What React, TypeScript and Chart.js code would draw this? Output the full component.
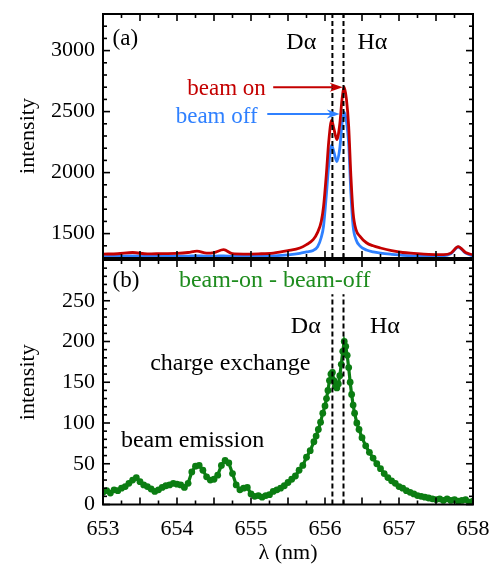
import React, { useEffect, useRef } from "react";
import { Chart, registerables } from "chart.js";

Chart.register(...registerables);

const SERIF = '"Liberation Serif", "Times New Roman", serif';

// ---------- panel (a) data ----------
const lambdaTop = [
  653.0, 653.2, 653.4, 653.6, 653.8, 654.0, 654.15, 654.27, 654.4, 654.5, 654.63, 654.75,
  654.9, 655.1, 655.3, 655.5, 655.66, 655.75, 655.84, 655.9, 655.95, 655.98, 656.02, 656.05,
  656.09, 656.12, 656.16, 656.2, 656.23, 656.26, 656.29, 656.32, 656.35, 656.38, 656.42,
  656.47, 656.56, 656.65, 656.75, 656.9, 657.05, 657.2, 657.4, 657.6, 657.7, 657.8, 657.9, 658.0,
];
const beamOn = [
  1332, 1335, 1345, 1333, 1336, 1338, 1345, 1356, 1340, 1345, 1368, 1335,
  1332, 1334, 1340, 1360, 1382, 1410, 1450, 1510, 1600, 1720, 2000, 2250,
  2430, 2360, 2270, 2400, 2600, 2700, 2600, 2380, 1970, 1670, 1530,
  1480, 1425, 1400, 1382, 1360, 1345, 1338, 1330, 1328, 1340, 1393, 1345, 1325,
];
const beamOff = [
  1312, 1314, 1318, 1313, 1314, 1315, 1316, 1318, 1315, 1315, 1318, 1314,
  1313, 1314, 1318, 1326, 1338, 1350, 1362, 1392, 1470, 1560, 1830, 2060,
  2225, 2170, 2090, 2200, 2400, 2495, 2420, 2240, 1830, 1560, 1450,
  1400, 1365, 1350, 1340, 1330, 1322, 1318, 1316, 1318, 1335, 1390, 1340, 1318,
];

// ---------- panel (b) data ----------
const lambdaDiff = [
  653.0, 653.05, 653.1, 653.15, 653.2, 653.25, 653.3, 653.35, 653.4, 653.45, 653.5, 653.55,
  653.6, 653.65, 653.7, 653.75, 653.8, 653.85, 653.9, 653.95, 654.0, 654.05, 654.1, 654.15,
  654.2, 654.25, 654.3, 654.35, 654.4, 654.45, 654.5, 654.55, 654.6, 654.65, 654.7, 654.75,
  654.8, 654.85, 654.9, 654.95, 655.0, 655.05, 655.1, 655.15, 655.2, 655.25, 655.3, 655.35,
  655.4, 655.45, 655.5, 655.55, 655.6, 655.65, 655.7, 655.75,
  655.8, 655.85, 655.88, 655.91, 655.94, 655.97, 656.0, 656.02, 656.04, 656.06, 656.08, 656.1,
  656.12, 656.14, 656.16, 656.18, 656.2, 656.22, 656.24, 656.26, 656.28, 656.3, 656.32, 656.34,
  656.36, 656.38, 656.4, 656.43, 656.46, 656.5,
  656.55, 656.6, 656.65, 656.7, 656.75, 656.8,
  656.85, 656.9, 656.95, 657.0, 657.05, 657.1, 657.15, 657.2, 657.25, 657.3, 657.35, 657.4,
  657.45, 657.5, 657.55, 657.6, 657.65, 657.7, 657.75, 657.8, 657.85, 657.9, 657.95, 658.0,
];
const beamDiff = [
  15, 17, 14, 18, 17, 20, 22, 26, 30, 33, 28, 24,
  22, 19, 16, 18, 21, 23, 24, 26, 25, 24, 21, 26,
  40, 47, 48, 42, 34, 30, 31, 36, 48, 54, 51, 38,
  24, 18, 20, 21, 13, 10, 11, 9, 11, 12, 16, 18,
  20, 23, 27, 31, 35, 42, 48, 58,
  66, 77, 84, 92, 101, 112, 121, 130, 140, 152, 160, 162,
  152, 145, 143, 148, 158, 172, 188, 200, 194, 183, 168, 150,
  135, 122, 112, 100, 92, 82,
  72, 64, 57, 50, 44, 38,
  33, 29, 26, 22, 20, 17, 15, 13, 11, 10, 9, 8,
  7, 6, 7, 5, 7, 5, 6, 4, 5, 6, 3, 4,
];

const xLabelTicks = [653, 654, 655, 656, 657, 658];
const yTicksTop = [1500, 2000, 2500, 3000];
const yTicksBottom = [0, 50, 100, 150, 200, 250];
const D_ALPHA = 656.1;
const H_ALPHA = 656.25;

const RED = "#c40000";
const BLUE = "#2f80ff";
const GREEN = "#0b7d12";
const GREEN_TEXT = "#1e8c1e";

type Txt = { t: string; x: number; y: number; color: string; size: number; align: CanvasTextAlign; base: CanvasTextBaseline };
type Arrow = { x1: number; x2: number; y: number; color: string };

function framePlugin(minorY: number, dashTop: number | null) {
  return {
    id: "frameTicks",
    afterDatasetsDraw(chart: any, _a: any, opts: any) {
      const { ctx, chartArea: a, scales } = chart;
      const xs = scales.x;
      const ys = scales.y;
      ctx.save();
      ctx.strokeStyle = "#000";
      ctx.lineWidth = 1.6;
      const seg = (x1: number, y1: number, x2: number, y2: number) => {
        ctx.beginPath();
        ctx.moveTo(x1, y1);
        ctx.lineTo(x2, y2);
        ctx.stroke();
      };
      for (let i = 0; i <= 20; i++) {
        const v = 653 + i * 0.25;
        const px = xs.getPixelForValue(v);
        const len = i % 2 === 0 ? 7 : 4;
        seg(px, a.bottom, px, a.bottom - len);
        seg(px, a.top, px, a.top + len);
      }
      const majors: number[] = opts.majors;
      for (let v = ys.min; v <= ys.max + 1e-6; v += minorY) {
        const py = ys.getPixelForValue(v);
        const isMajor = majors.indexOf(Math.round(v)) >= 0;
        const len = isMajor ? 7 : 4;
        seg(a.left, py, a.left + len, py);
        seg(a.right, py, a.right - len, py);
      }
      ctx.setLineDash([5, 3]);
      ctx.lineWidth = 2;
      const topPx = dashTop === null ? a.top : ys.getPixelForValue(dashTop);
      [D_ALPHA, H_ALPHA].forEach((v) => {
        const px = xs.getPixelForValue(v);
        seg(px, a.bottom, px, topPx);
      });
      ctx.setLineDash([]);
      ctx.lineWidth = 2;
      ctx.strokeRect(a.left, a.top, a.right - a.left, a.bottom - a.top);
      const texts: Txt[] = opts.texts || [];
      texts.forEach((t) => {
        ctx.font = `${t.size}px ${SERIF}`;
        ctx.fillStyle = t.color;
        ctx.textAlign = t.align;
        ctx.textBaseline = t.base;
        ctx.fillText(t.t, xs.getPixelForValue(t.x), ys.getPixelForValue(t.y));
      });
      const arrows: Arrow[] = opts.arrows || [];
      arrows.forEach((ar) => {
        const x1 = xs.getPixelForValue(ar.x1);
        const x2 = xs.getPixelForValue(ar.x2);
        const y = ys.getPixelForValue(ar.y);
        ctx.strokeStyle = ar.color;
        ctx.fillStyle = ar.color;
        ctx.lineWidth = 2;
        seg(x1, y, x2 - 8, y);
        ctx.beginPath();
        ctx.moveTo(x2, y);
        ctx.lineTo(x2 - 13, y - 4.5);
        ctx.lineTo(x2 - 9, y);
        ctx.lineTo(x2 - 13, y + 4.5);
        ctx.closePath();
        ctx.fill();
      });
      ctx.restore();
    },
  };
}

const tickFont = { family: SERIF, size: 22 };
const plainLabel = (v: any) => String(v);
const fitY = (s: any) => {
  s.width = 103;
  s.paddingTop = 0;
  s.paddingBottom = 0;
};

export default function App() {
  const topRef = useRef<HTMLCanvasElement>(null);
  const botRef = useRef<HTMLCanvasElement>(null);

  useEffect(() => {
    const topChart = new Chart(topRef.current as HTMLCanvasElement, {
      type: "line",
      data: {
        datasets: [
          {
            label: "beam on",
            data: lambdaTop.map((x, i) => ({ x, y: beamOn[i] })),
            borderColor: RED,
            borderWidth: 2.8,
            pointRadius: 0,
            cubicInterpolationMode: "monotone",
          },
          {
            label: "beam off",
            data: lambdaTop.map((x, i) => ({ x, y: beamOff[i] })),
            borderColor: BLUE,
            borderWidth: 2.8,
            pointRadius: 0,
            cubicInterpolationMode: "monotone",
          },
        ],
      },
      options: {
        animation: false,
        responsive: false,
        events: [],
        layout: { autoPadding: false, padding: { top: 14, right: 21, bottom: 2, left: 0 } },
        plugins: {
          legend: { display: false },
          tooltip: { enabled: false },
          frameTicks: {
            majors: yTicksTop,
            texts: [
              { t: "(a)", x: 653.13, y: 3098, color: "#000", size: 23, align: "left", base: "middle" },
              { t: "Dα", x: 655.68, y: 3065, color: "#000", size: 24, align: "center", base: "middle" },
              { t: "Hα", x: 656.64, y: 3065, color: "#000", size: 24, align: "center", base: "middle" },
              { t: "beam on", x: 655.2, y: 2633, color: RED, size: 23, align: "right", base: "alphabetic" },
              { t: "beam off", x: 655.09, y: 2405, color: BLUE, size: 23, align: "right", base: "alphabetic" },
            ],
            arrows: [
              { x1: 655.3, x2: 656.24, y: 2700, color: RED },
              { x1: 655.22, x2: 656.2, y: 2480, color: BLUE },
            ],
          },
        } as any,
        scales: {
          x: { type: "linear", min: 653, max: 658, display: false },
          y: {
            min: 1300,
            max: 3300,
            afterFit: fitY,
            afterBuildTicks: (s: any) => { s.ticks = yTicksTop.map((v) => ({ value: v })); },
            grid: { display: false, drawTicks: false },
            border: { display: false },
            ticks: { font: tickFont, color: "#000", padding: 8, callback: plainLabel },
            title: { display: true, text: "intensity", font: tickFont, color: "#000", padding: { top: 15, bottom: 0 } },
          },
        },
      },
      plugins: [framePlugin(100, null)],
    });

    const botChart = new Chart(botRef.current as HTMLCanvasElement, {
      type: "line",
      data: {
        datasets: [
          {
            label: "beam-on - beam-off",
            data: lambdaDiff.map((x, i) => ({ x, y: beamDiff[i] })),
            borderColor: GREEN,
            backgroundColor: GREEN,
            borderWidth: 3.2,
            pointRadius: 3.4,
            pointBorderWidth: 0,
            pointBackgroundColor: GREEN,
            tension: 0,
          },
        ],
      },
      options: {
        animation: false,
        responsive: false,
        events: [],
        layout: { autoPadding: false, padding: { top: 2, right: 21, bottom: 0, left: 0 } },
        plugins: {
          legend: { display: false },
          tooltip: { enabled: false },
          frameTicks: {
            majors: yTicksBottom,
            texts: [
              { t: "(b)", x: 653.13, y: 274, color: "#000", size: 23, align: "left", base: "middle" },
              { t: "beam-on - beam-off", x: 655.32, y: 274, color: GREEN_TEXT, size: 24, align: "center", base: "middle" },
              { t: "Dα", x: 655.74, y: 218, color: "#000", size: 24, align: "center", base: "middle" },
              { t: "Hα", x: 656.81, y: 218, color: "#000", size: 24, align: "center", base: "middle" },
              { t: "charge exchange", x: 654.72, y: 165, color: "#000", size: 24, align: "center", base: "alphabetic" },
              { t: "beam emission", x: 654.21, y: 70.5, color: "#000", size: 24, align: "center", base: "alphabetic" },
            ],
          },
        } as any,
        scales: {
          x: {
            type: "linear",
            min: 653,
            max: 658,
            afterFit: (s: any) => { s.height = 61.5; s.paddingLeft = 0; s.paddingRight = 0; },
            afterBuildTicks: (s: any) => { s.ticks = xLabelTicks.map((v) => ({ value: v })); },
            grid: { display: false, drawTicks: false },
            border: { display: false },
            ticks: { font: tickFont, color: "#000", padding: 12, maxRotation: 0, callback: plainLabel },
            title: { display: true, text: "λ (nm)", font: tickFont, color: "#000", padding: { top: 0, bottom: 0 } },
          },
          y: {
            min: 0,
            max: 300,
            afterFit: fitY,
            afterBuildTicks: (s: any) => { s.ticks = yTicksBottom.map((v) => ({ value: v })); },
            grid: { display: false, drawTicks: false },
            border: { display: false },
            ticks: { font: tickFont, color: "#000", padding: 8, callback: plainLabel },
            title: { display: true, text: "intensity", font: tickFont, color: "#000", padding: { top: 15, bottom: 0 } },
          },
        },
      },
      plugins: [framePlugin(10, 258)],
    });

    return () => {
      topChart.destroy();
      botChart.destroy();
    };
  }, []);

  return (
    <div style={{ position: "absolute", left: 0, top: 0, width: 494, height: 566, background: "#fff" }}>
      <canvas ref={topRef} width={494} height={260} style={{ position: "absolute", left: 0, top: 0 }} />
      <canvas ref={botRef} width={494} height={308} style={{ position: "absolute", left: 0, top: 258 }} />
    </div>
  );
}
